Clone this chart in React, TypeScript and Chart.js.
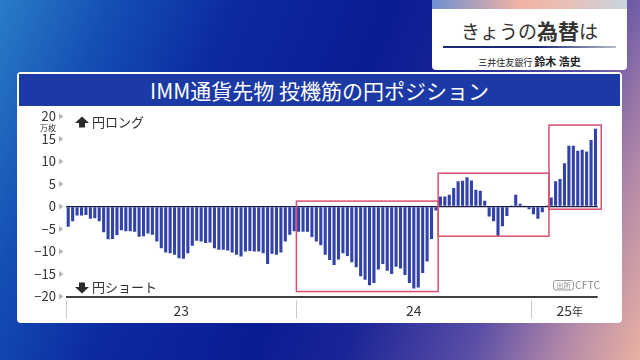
import { useEffect, useRef } from 'react';
import { Chart, registerables } from 'chart.js';

Chart.register(...registerables);

const FONT = '"Noto Sans CJK JP", "Noto Sans", sans-serif';

// Weekly net yen position of speculators (10k contracts)
const y2023 = [
  -4.5, -3.3, -2.0, -2.0, -1.9, -2.7, -2.6, -3.3, -5.7, -7.3, -7.2, -6.4, -5.3,
  -5.5, -5.5, -5.6, -6.7, -6.6, -6.0, -6.3, -7.8, -9.3, -10.2, -10.4, -10.7, -11.5,
  -11.6, -10.4, -8.7, -7.6, -7.8, -8.1, -8.0, -9.3, -9.6, -9.6, -9.8, -10.2, -10.7,
  -11.1, -10.0, -9.9, -10.0, -10.0, -10.4, -12.8, -10.5, -10.7, -10.2, -7.8, -6.3, -5.5,
];
const y2024 = [
  -5.6, -5.6, -5.6, -6.8, -7.8, -8.6, -10.7, -11.9, -13.0, -11.8, -10.4, -11.0, -12.4,
  -13.5, -15.5, -16.3, -17.5, -17.0, -14.0, -12.8, -14.3, -15.0, -13.4, -13.8, -15.2, -17.0,
  -18.2, -18.0, -14.8, -12.2, -7.2, -0.9, 2.2, 2.2, 2.6, 4.1, 5.6, 5.7, 6.5,
  5.8, 3.7, 3.5, 1.3, -2.2, -3.3, -6.5, -4.4, -2.1, 0.1, 2.6, 0.6, 0.1, -0.6,
];
const y2025 = [-1.7, -2.7, -1.3, 0.2, 2.0, 5.6, 6.1, 9.6, 13.5, 13.5, 12.4, 12.6, 12.2, 14.8, 17.3];

const yearLabels = ['23', '24', '25年'];
const yMin = -20;
const yMax = 20;
const yStep = 5;

// highlighted periods (bar index range, value range)
const boxFrom = [52, 84, 109];
const boxTo = [84, 109, 120.8];
const boxHigh = [1.2, 7.4, 18.1];
const boxLow = [-18.9, -6.6, -0.6];

const years = [y2023, y2024, y2025];
const values = [...y2023, ...y2024, ...y2025];
const labels = years.flatMap((arr, k) => arr.map((_, i) => `${2023 + k}-${i + 1}`));

const overlayPlugin = {
  id: 'overlay',
  afterDraw(chart: any) {
    const ctx = chart.ctx as CanvasRenderingContext2D;
    const xs = chart.scales.x;
    const ys = chart.scales.y;
    const p0 = xs.getPixelForValue(0);
    const step = xs.getPixelForValue(1) - p0;
    const edge = (i: number) => p0 + (i - 0.5) * step;
    ctx.save();

    // triangles beside y ticks
    ctx.fillStyle = '#b5b5b5';
    ys.ticks.forEach((t: any) => {
      const py = ys.getPixelForValue(t.value);
      ctx.beginPath();
      ctx.moveTo(59, py - 3);
      ctx.lineTo(63.5, py);
      ctx.lineTo(59, py + 3);
      ctx.closePath();
      ctx.fill();
    });

    // unit
    ctx.fillStyle = '#333';
    ctx.font = `8px ${FONT}`;
    ctx.textAlign = 'center';
    ctx.textBaseline = 'middle';
    ctx.fillText('万枚', 48, ys.getPixelForValue(yMax) + 11);

    // highlight boxes
    ctx.strokeStyle = '#d9506e';
    ctx.lineWidth = 1.5;
    for (let k = 0; k < boxFrom.length; k++) {
      const l = edge(boxFrom[k]);
      const r = edge(boxTo[k]);
      const t = ys.getPixelForValue(boxHigh[k]);
      const b = ys.getPixelForValue(boxLow[k]);
      ctx.strokeRect(l, t, r - l, b - t);
    }

    // x axis year separators and labels
    const bottom = chart.chartArea.bottom;
    let start = 0;
    ctx.font = `14px ${FONT}`;
    ctx.textAlign = 'center';
    ctx.textBaseline = 'middle';
    years.forEach((arr, k) => {
      const lx = Math.round(edge(start)) + 0.5;
      ctx.strokeStyle = '#c8c8c8';
      ctx.lineWidth = 1;
      ctx.beginPath();
      ctx.moveTo(lx, bottom + 4);
      ctx.lineTo(lx, bottom + 22);
      ctx.stroke();
      const cx = (edge(start) + edge(start + arr.length)) / 2;
      ctx.fillStyle = '#333';
      if (k === 2) {
        ctx.textAlign = 'left';
        ctx.font = `14px ${FONT}`;
        const w = ctx.measureText('25').width;
        ctx.fillText('25', cx - 8, bottom + 14);
        ctx.font = `11px ${FONT}`;
        ctx.fillText('年', cx - 8 + w, bottom + 15);
        ctx.textAlign = 'center';
        ctx.font = `14px ${FONT}`;
      } else {
        ctx.fillText(yearLabels[k], cx, bottom + 14);
      }
      start += arr.length;
    });

    // long / short annotations
    const ax = 82;
    const topY = ys.getPixelForValue(yMax);
    ctx.fillStyle = '#2a2a2a';
    // up arrow
    ctx.beginPath();
    ctx.moveTo(ax, topY);
    ctx.lineTo(ax + 7, topY + 6.5);
    ctx.lineTo(ax + 3, topY + 6.5);
    ctx.lineTo(ax + 3, topY + 11);
    ctx.lineTo(ax - 3, topY + 11);
    ctx.lineTo(ax - 3, topY + 6.5);
    ctx.lineTo(ax - 7, topY + 6.5);
    ctx.closePath();
    ctx.fill();
    // down arrow
    const dy = bottom - 14;
    ctx.beginPath();
    ctx.moveTo(ax - 3, dy);
    ctx.lineTo(ax + 3, dy);
    ctx.lineTo(ax + 3, dy + 4.5);
    ctx.lineTo(ax + 7, dy + 4.5);
    ctx.lineTo(ax, dy + 11);
    ctx.lineTo(ax - 7, dy + 4.5);
    ctx.lineTo(ax - 3, dy + 4.5);
    ctx.closePath();
    ctx.fill();
    ctx.fillStyle = '#333';
    ctx.font = `13px ${FONT}`;
    ctx.textAlign = 'left';
    ctx.textBaseline = 'middle';
    ctx.fillText('円ロング', 92, topY + 6);
    ctx.fillText('円ショート', 92, bottom - 9.5);

    // source
    const sx = 553;
    const sy = bottom - 16.5;
    ctx.strokeStyle = '#9a9a9a';
    ctx.lineWidth = 1;
    ctx.beginPath();
    (ctx as any).roundRect(sx + 0.5, sy + 0.5, 20, 9.5, 2.5);
    ctx.stroke();
    ctx.fillStyle = '#8a8a8a';
    ctx.font = `7px ${FONT}`;
    ctx.textAlign = 'center';
    ctx.fillText('出所', sx + 10.5, sy + 5.5);
    ctx.font = `10.5px ${FONT}`;
    ctx.textAlign = 'left';
    ctx.fillText('CFTC', sx + 22, sy + 5.5);

    ctx.restore();
  },
};

export default function App() {
  const ref = useRef<HTMLCanvasElement>(null);

  useEffect(() => {
    if (!ref.current) return;
    const chart = new Chart(ref.current, {
      type: 'bar',
      data: {
        labels,
        datasets: [
          {
            data: values,
            backgroundColor: '#3242ab',
            barPercentage: 0.7,
            categoryPercentage: 1,
          },
        ],
      },
      options: {
        responsive: false,
        animation: false,
        devicePixelRatio: 1,
        layout: { padding: { left: 0, right: 42.3, top: 116.5, bottom: 63.5 } },
        plugins: { legend: { display: false }, tooltip: { enabled: false } },
        scales: {
          x: { display: false },
          y: {
            min: yMin,
            max: yMax,
            afterFit: (s: any) => {
              s.width = 66;
            },
            border: { display: false },
            grid: {
              drawTicks: false,
              color: (c: any) =>
                c.tick && c.tick.value === 0
                  ? '#1d1d45'
                  : c.tick && c.tick.value === yMin
                  ? '#3f3f3f'
                  : 'rgba(0,0,0,0)',
              lineWidth: (c: any) => (c.tick && c.tick.value === yMin ? 2 : 1.3),
            },
            ticks: {
              stepSize: yStep,
              padding: 10,
              color: '#333',
              font: { family: FONT, size: 13 },
              callback: (v: any) => (Number(v) < 0 ? '−' + Math.abs(Number(v)) : String(v)),
            },
          },
        },
      },
      plugins: [overlayPlugin],
    });
    return () => chart.destroy();
  }, []);

  return (
    <div
      style={{
        position: 'fixed',
        left: 0,
        top: 0,
        width: 640,
        height: 360,
        overflow: 'hidden',
        fontFamily: FONT,
        background:
          'linear-gradient(112deg, #2a7cc8 0%, #1450b4 14%, #0c2aa0 30%, #0a1c92 50%, #1a2496 62%, #5a4ea6 78%, #b58aa8 90%, #eab2a2 100%)',
      }}
    >
      {/* header card */}
      <div
        style={{
          position: 'absolute',
          left: 432,
          top: 0,
          width: 195,
          height: 70,
          background: '#fff',
          borderRadius: '0 0 4px 4px',
          overflow: 'hidden',
        }}
      >
        <div
          style={{
            height: 9,
            background: 'linear-gradient(90deg, #6f8fd0 0%, #f2b3a3 45%, #e8c0b8 70%, #c8d4e0 100%)',
          }}
        />
        <div
          style={{
            position: 'absolute',
            left: 0,
            top: 16,
            width: '100%',
            textAlign: 'center',
            color: '#333',
            lineHeight: '28px',
            whiteSpace: 'nowrap',
          }}
        >
          <span style={{ fontSize: 19 }}>きょうの</span>
          <span style={{ fontSize: 21, fontWeight: 700 }}>為替</span>
          <span style={{ fontSize: 19 }}>は</span>
        </div>
        <div
          style={{
            position: 'absolute',
            left: 11,
            top: 46,
            width: 173,
            height: 2,
            background: 'linear-gradient(90deg, #1a2a7a 0%, #1a2a7a 55%, #b8bcc8 100%)',
          }}
        />
        <div
          style={{
            position: 'absolute',
            left: 0,
            top: 51,
            width: '100%',
            textAlign: 'center',
            color: '#222',
            lineHeight: '16px',
            whiteSpace: 'nowrap',
          }}
        >
          <span style={{ fontSize: 9 }}>三井住友銀行 </span>
          <span style={{ fontSize: 11, fontWeight: 700 }}>鈴木 浩史</span>
        </div>
      </div>

      {/* chart panel */}
      <div
        style={{
          position: 'absolute',
          left: 17,
          top: 72,
          width: 605,
          height: 251,
          background: '#fff',
          borderRadius: 4,
        }}
      />
      <div
        style={{
          position: 'absolute',
          left: 19,
          top: 74,
          width: 601,
          height: 32,
          background: '#1c3aa6',
          color: '#fff',
          fontSize: 21,
          lineHeight: '32px',
          textAlign: 'center',
          whiteSpace: 'nowrap',
        }}
      >
        IMM通貨先物 投機筋の円ポジション
      </div>
      <canvas
        ref={ref}
        width={640}
        height={360}
        style={{ position: 'absolute', left: 0, top: 0, width: 640, height: 360 }}
      />
    </div>
  );
}
